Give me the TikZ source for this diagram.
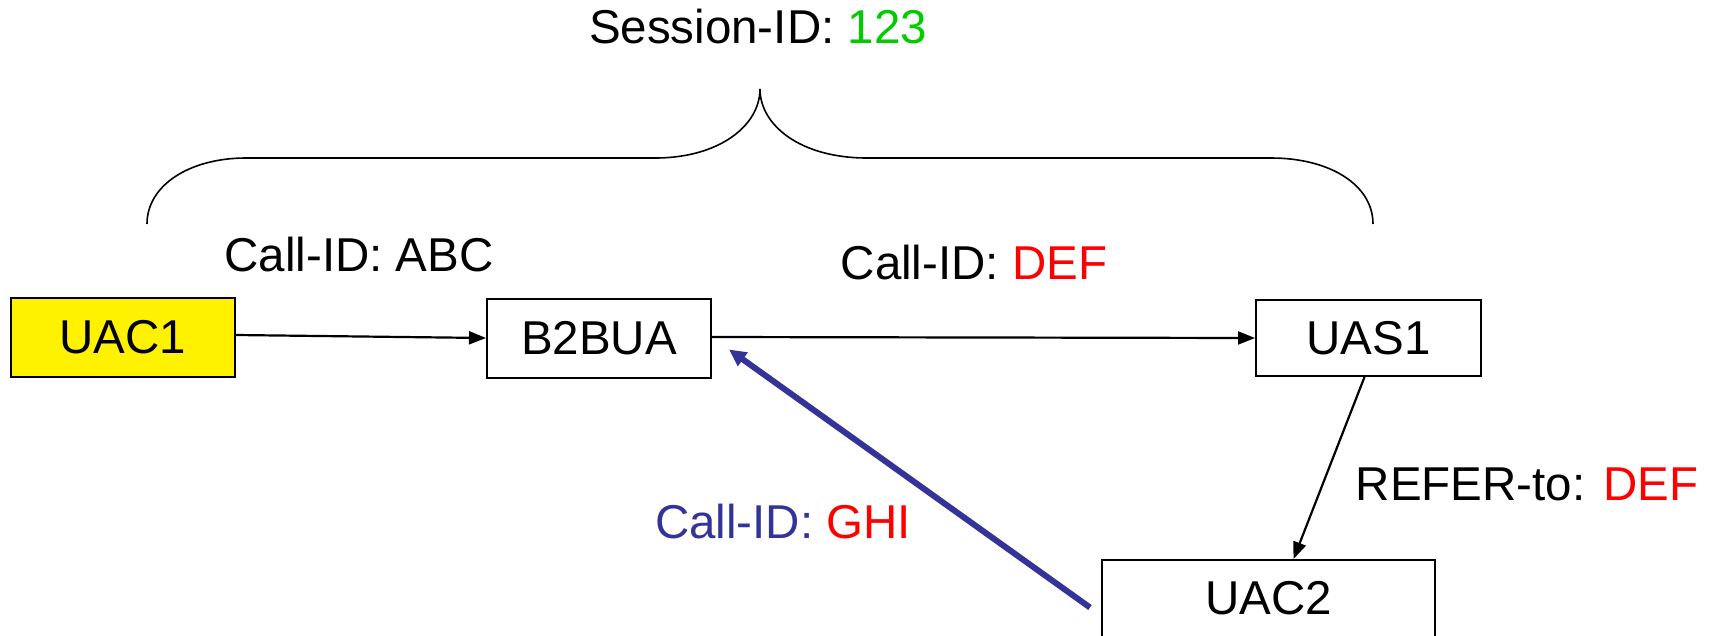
\documentclass[tikz,border=0pt]{standalone}
\usepackage{fontspec}
\setmainfont{Liberation Sans}
\usetikzlibrary{arrows.meta}
\definecolor{sidgreen}{RGB}{0,204,0}
\definecolor{idred}{RGB}{255,0,0}
\definecolor{ghiblue}{RGB}{51,51,153}
\tikzset{
  lbl/.style={font=\fontsize{47.5}{57}\selectfont, inner sep=0pt, anchor=center},
  boxnode/.style={draw=black, line width=2pt, font=\fontsize{47.5}{57}\selectfont, inner sep=0pt, anchor=center},
  conn/.style={line width=2.2pt, -{Triangle[length=17pt,width=13pt]}},
  blueconn/.style={line width=6pt, draw=ghiblue, -{Triangle[length=17pt,width=16pt]}, shorten >=0pt},
}
\begin{document}
\begin{tikzpicture}[x=1pt,y=-1pt]
\useasboundingbox (0,0) rectangle (1711,635);
\clip (0,0) rectangle (1711,635);
\fill[white] (0,0) rectangle (1711,635);
% boxes
\node[boxnode, fill=yellow, minimum width=224pt, minimum height=79pt] (uac1) at (123,337) {UAC1};
\node[boxnode, minimum width=224pt, minimum height=79pt] (b2bua) at (599,338.5) {B2BUA};
\node[boxnode, minimum width=225pt, minimum height=76pt] (uas1) at (1368.5,338) {UAS1};
\node[boxnode, minimum width=333pt, minimum height=77pt] (uac2) at (1268.5,598.5) {UAC2};
% labels
\node[lbl] (sid) at (758,27) {Session-ID: \textcolor{sidgreen}{123}};
\node[lbl] (cabc) at (359,255) {Call-ID: ABC};
\node[lbl] (cdef) at (974,263) {Call-ID: \textcolor{idred}{DEF}};
\node[lbl] (refer) at (1527,484) {REFER-to: \textcolor{idred}{DEF}};
\node[lbl, text=ghiblue] (cghi) at (783,522) {Call-ID: \textcolor{idred}{GHI}};
% brace
\coordinate (bl) at (147,224);
\coordinate (btip) at (760,89);
\coordinate (br) at (1373,224);
\draw[line width=1.6pt] (bl) .. controls (147,185) and (190,158) .. (246,158) -- (655,158)
  .. controls (720,158) and (760,125) .. (btip)
  .. controls (760,125) and (800,158) .. (867,158) -- (1271,158)
  .. controls (1330,158) and (1373,185) .. (br);
% connectors
\draw[conn] ([yshift=2]uac1.east) -- ([yshift=0.5]b2bua.west);
\draw[conn] ([yshift=1.5]b2bua.east) -- (uas1.west);
\draw[conn] ([xshift=-4]uas1.south) -- ([xshift=25]uac2.north);
\draw[blueconn] ([shift={(-11,9)}]uac2.west) -- ([shift={(17,11)}]b2bua.east);
\end{tikzpicture}
\end{document}
